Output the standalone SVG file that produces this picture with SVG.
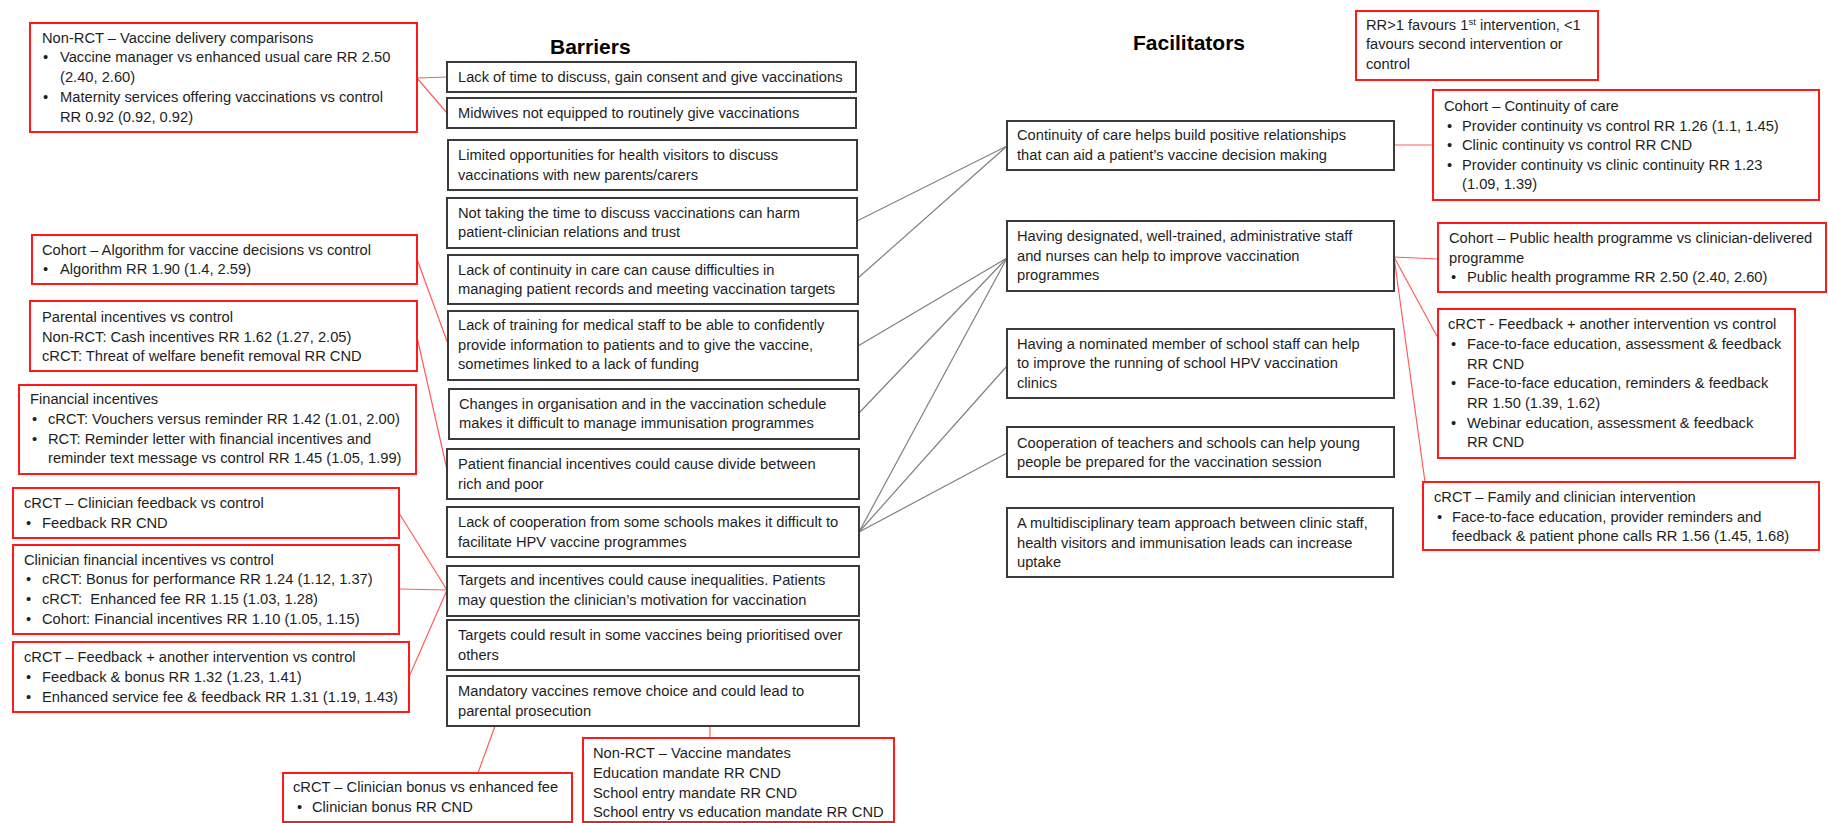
<svg xmlns="http://www.w3.org/2000/svg" width="1828" height="823" viewBox="0 0 1828 823">
<style>
.rb{fill:#fff;stroke:#ff1a1a;stroke-width:2}
.bb{fill:#fff;stroke:#3a3a3a;stroke-width:2}
text{font-family:"Liberation Sans",Arial,sans-serif;font-size:14.7px;fill:#1e1e1e}
.h{font-weight:bold;font-size:21px;fill:#000}
.gc{stroke:#808080;stroke-width:1.2;fill:none}
.rc{stroke:#ff5c5c;stroke-width:1.2;fill:none}
</style>
<rect width="1828" height="823" fill="#fff"/>
<g id="connectors">
<line class="rc" x1="417" y1="78" x2="447" y2="77"/>
<line class="rc" x1="417" y1="78" x2="447" y2="113"/>
<line class="rc" x1="417" y1="259" x2="448" y2="344"/>
<line class="rc" x1="417" y1="337" x2="448" y2="474"/>
<line class="rc" x1="399" y1="513" x2="447" y2="590"/>
<line class="rc" x1="399" y1="589" x2="447" y2="590"/>
<line class="rc" x1="409" y1="677" x2="447" y2="590"/>
<line class="rc" x1="495" y1="726" x2="478" y2="773"/>
<line class="rc" x1="710" y1="726" x2="710" y2="738"/>
<line class="gc" x1="857" y1="221" x2="1007" y2="146"/>
<line class="gc" x1="858" y1="278" x2="1007" y2="146"/>
<line class="gc" x1="858" y1="346" x2="1007" y2="258"/>
<line class="gc" x1="859" y1="413" x2="1007" y2="258"/>
<line class="gc" x1="859" y1="532" x2="1007" y2="258"/>
<line class="gc" x1="859" y1="532" x2="1007" y2="366"/>
<line class="gc" x1="859" y1="532" x2="1007" y2="453"/>
<line class="rc" x1="1394" y1="145" x2="1433" y2="145"/>
<line class="rc" x1="1394" y1="257" x2="1438" y2="259"/>
<line class="rc" x1="1394" y1="257" x2="1438" y2="338"/>
<line class="rc" x1="1394" y1="257" x2="1425" y2="482"/>
</g>
<g id="titles">
<text class="h" x="550" y="54">Barriers</text>
<text class="h" x="1133" y="50">Facilitators</text>
</g>
<g id="ev-delivery">
<rect class="rb" x="30" y="23" width="387" height="109"/>
<text x="42" y="43">Non-RCT – Vaccine delivery comparisons</text>
<text x="43" y="62">•</text><text x="60" y="62">Vaccine manager vs enhanced usual care RR 2.50</text>
<text x="60" y="82">(2.40, 2.60)</text>
<text x="43" y="102">•</text><text x="60" y="102">Maternity services offering vaccinations vs control</text>
<text x="60" y="122">RR 0.92 (0.92, 0.92)</text>
</g>
<g id="ev-algorithm">
<rect class="rb" x="32" y="235" width="385" height="49"/>
<text x="42" y="255">Cohort – Algorithm for vaccine decisions vs control</text>
<text x="43" y="274">•</text><text x="60" y="274">Algorithm RR 1.90 (1.4, 2.59)</text>
</g>
<g id="ev-parental">
<rect class="rb" x="30" y="301" width="387" height="70"/>
<text x="42" y="322">Parental incentives vs control</text>
<text x="42" y="342">Non-RCT: Cash incentives RR 1.62 (1.27, 2.05)</text>
<text x="42" y="361">cRCT: Threat of welfare benefit removal RR CND</text>
</g>
<g id="ev-financial">
<rect class="rb" x="19" y="385" width="397" height="89"/>
<text x="30" y="404">Financial incentives</text>
<text x="32" y="424">•</text><text x="48" y="424">cRCT: Vouchers versus reminder RR 1.42 (1.01, 2.00)</text>
<text x="32" y="444">•</text><text x="48" y="444">RCT: Reminder letter with financial incentives and</text>
<text x="48" y="463">reminder text message vs control RR 1.45 (1.05, 1.99)</text>
</g>
<g id="ev-clin-feedback">
<rect class="rb" x="13" y="488" width="386" height="50"/>
<text x="24" y="508">cRCT – Clinician feedback vs control</text>
<text x="26" y="528">•</text><text x="42" y="528">Feedback RR CND</text>
</g>
<g id="ev-clin-financial">
<rect class="rb" x="13" y="545" width="386" height="89"/>
<text x="24" y="565">Clinician financial incentives vs control</text>
<text x="26" y="584">•</text><text x="42" y="584">cRCT: Bonus for performance RR 1.24 (1.12, 1.37)</text>
<text x="26" y="604">•</text><text x="42" y="604" xml:space="preserve">cRCT:  Enhanced fee RR 1.15 (1.03, 1.28)</text>
<text x="26" y="624">•</text><text x="42" y="624">Cohort: Financial incentives RR 1.10 (1.05, 1.15)</text>
</g>
<g id="ev-feedback-plus">
<rect class="rb" x="13" y="642" width="396" height="70"/>
<text x="24" y="662">cRCT – Feedback + another intervention vs control</text>
<text x="26" y="682">•</text><text x="42" y="682">Feedback &amp; bonus RR 1.32 (1.23, 1.41)</text>
<text x="26" y="702">•</text><text x="42" y="702">Enhanced service fee &amp; feedback RR 1.31 (1.19, 1.43)</text>
</g>
<g id="ev-bonus-fee">
<rect class="rb" x="283" y="773" width="289" height="49"/>
<text x="293" y="792">cRCT – Clinician bonus vs enhanced fee</text>
<text x="297" y="812">•</text><text x="312" y="812">Clinician bonus RR CND</text>
</g>
<g id="ev-mandates">
<rect class="rb" x="583" y="738" width="311" height="84"/>
<text x="593" y="758">Non-RCT – Vaccine mandates</text>
<text x="593" y="778">Education mandate RR CND</text>
<text x="593" y="798">School entry mandate RR CND</text>
<text x="593" y="817">School entry vs education mandate RR CND</text>
</g>
<g id="b1"><rect class="bb" x="447" y="62" width="409" height="30"/>
<text x="458" y="82">Lack of time to discuss, gain consent and give vaccinations</text></g>
<g id="b2"><rect class="bb" x="447" y="98" width="409" height="30"/>
<text x="458" y="118">Midwives not equipped to routinely give vaccinations</text></g>
<g id="b3"><rect class="bb" x="448" y="140" width="409" height="50"/>
<text x="458" y="160">Limited opportunities for health visitors to discuss</text>
<text x="458" y="180">vaccinations with new parents/carers</text></g>
<g id="b4"><rect class="bb" x="447" y="198" width="410" height="50"/>
<text x="458" y="218">Not taking the time to discuss vaccinations can harm</text>
<text x="458" y="237">patient-clinician relations and trust</text></g>
<g id="b5"><rect class="bb" x="448" y="255" width="410" height="49"/>
<text x="458" y="275">Lack of continuity in care can cause difficulties in</text>
<text x="458" y="294">managing patient records and meeting vaccination targets</text></g>
<g id="b6"><rect class="bb" x="448" y="311" width="410" height="69"/>
<text x="458" y="330">Lack of training for medical staff to be able to confidently</text>
<text x="458" y="350">provide information to patients and to give the vaccine,</text>
<text x="458" y="369">sometimes linked to a lack of funding</text></g>
<g id="b7"><rect class="bb" x="449" y="389" width="410" height="50"/>
<text x="459" y="409">Changes in organisation and in the vaccination schedule</text>
<text x="459" y="428">makes it difficult to manage immunisation programmes</text></g>
<g id="b8"><rect class="bb" x="447" y="449" width="412" height="50"/>
<text x="458" y="469">Patient financial incentives could cause divide between</text>
<text x="458" y="489">rich and poor</text></g>
<g id="b9"><rect class="bb" x="447" y="507" width="412" height="50"/>
<text x="458" y="527">Lack of cooperation from some schools makes it difficult to</text>
<text x="458" y="547">facilitate HPV vaccine programmes</text></g>
<g id="b10"><rect class="bb" x="447" y="566" width="412" height="50"/>
<text x="458" y="585">Targets and incentives could cause inequalities. Patients</text>
<text x="458" y="605">may question the clinician’s motivation for vaccination</text></g>
<g id="b11"><rect class="bb" x="447" y="620" width="412" height="50"/>
<text x="458" y="640">Targets could result in some vaccines being prioritised over</text>
<text x="458" y="660">others</text></g>
<g id="b12"><rect class="bb" x="447" y="676" width="412" height="50"/>
<text x="458" y="696">Mandatory vaccines remove choice and could lead to</text>
<text x="458" y="716">parental prosecution</text></g>
<g id="f1"><rect class="bb" x="1007" y="121" width="387" height="49"/>
<text x="1017" y="140">Continuity of care helps build positive relationships</text>
<text x="1017" y="160">that can aid a patient’s vaccine decision making</text></g>
<g id="f2"><rect class="bb" x="1007" y="221" width="387" height="70"/>
<text x="1017" y="241">Having designated, well-trained, administrative staff</text>
<text x="1017" y="261">and nurses can help to improve vaccination</text>
<text x="1017" y="280">programmes</text></g>
<g id="f3"><rect class="bb" x="1007" y="329" width="387" height="69"/>
<text x="1017" y="349">Having a nominated member of school staff can help</text>
<text x="1017" y="368">to improve the running of school HPV vaccination</text>
<text x="1017" y="388">clinics</text></g>
<g id="f4"><rect class="bb" x="1007" y="427" width="387" height="50"/>
<text x="1017" y="448">Cooperation of teachers and schools can help young</text>
<text x="1017" y="467">people be prepared for the vaccination session</text></g>
<g id="f5"><rect class="bb" x="1007" y="508" width="386" height="69"/>
<text x="1017" y="528">A multidisciplinary team approach between clinic staff,</text>
<text x="1017" y="548">health visitors and immunisation leads can increase</text>
<text x="1017" y="567">uptake</text></g>
<g id="key">
<rect class="rb" x="1356" y="11" width="242" height="69"/>
<text x="1366" y="30">RR&gt;1 favours 1<tspan font-size="9.5" dy="-5">st</tspan><tspan dy="5"> intervention, &lt;1</tspan></text>
<text x="1366" y="49">favours second intervention or</text>
<text x="1366" y="69">control</text>
</g>
<g id="ev-continuity">
<rect class="rb" x="1433" y="90" width="386" height="110"/>
<text x="1444" y="111">Cohort – Continuity of care</text>
<text x="1447" y="131">•</text><text x="1462" y="131">Provider continuity vs control RR 1.26 (1.1, 1.45)</text>
<text x="1447" y="150">•</text><text x="1462" y="150">Clinic continuity vs control RR CND</text>
<text x="1447" y="170">•</text><text x="1462" y="170">Provider continuity vs clinic continuity RR 1.23</text>
<text x="1462" y="189">(1.09, 1.39)</text>
</g>
<g id="ev-public-health">
<rect class="rb" x="1438" y="223" width="388" height="69"/>
<text x="1449" y="243">Cohort – Public health programme vs clinician-delivered</text>
<text x="1449" y="263">programme</text>
<text x="1451" y="282">•</text><text x="1467" y="282">Public health programme RR 2.50 (2.40, 2.60)</text>
</g>
<g id="ev-feedback-right">
<rect class="rb" x="1438" y="309" width="357" height="149"/>
<text x="1448" y="329">cRCT - Feedback + another intervention vs control</text>
<text x="1451" y="349">•</text><text x="1467" y="349">Face-to-face education, assessment &amp; feedback</text>
<text x="1467" y="369">RR CND</text>
<text x="1451" y="388">•</text><text x="1467" y="388">Face-to-face education, reminders &amp; feedback</text>
<text x="1467" y="408">RR 1.50 (1.39, 1.62)</text>
<text x="1451" y="428">•</text><text x="1467" y="428">Webinar education, assessment &amp; feedback</text>
<text x="1467" y="447">RR CND</text>
</g>
<g id="ev-family">
<rect class="rb" x="1423" y="482" width="396" height="68"/>
<text x="1434" y="502">cRCT – Family and clinician intervention</text>
<text x="1437" y="522">•</text><text x="1452" y="522">Face-to-face education, provider reminders and</text>
<text x="1452" y="541">feedback &amp; patient phone calls RR 1.56 (1.45, 1.68)</text>
</g>
</svg>
